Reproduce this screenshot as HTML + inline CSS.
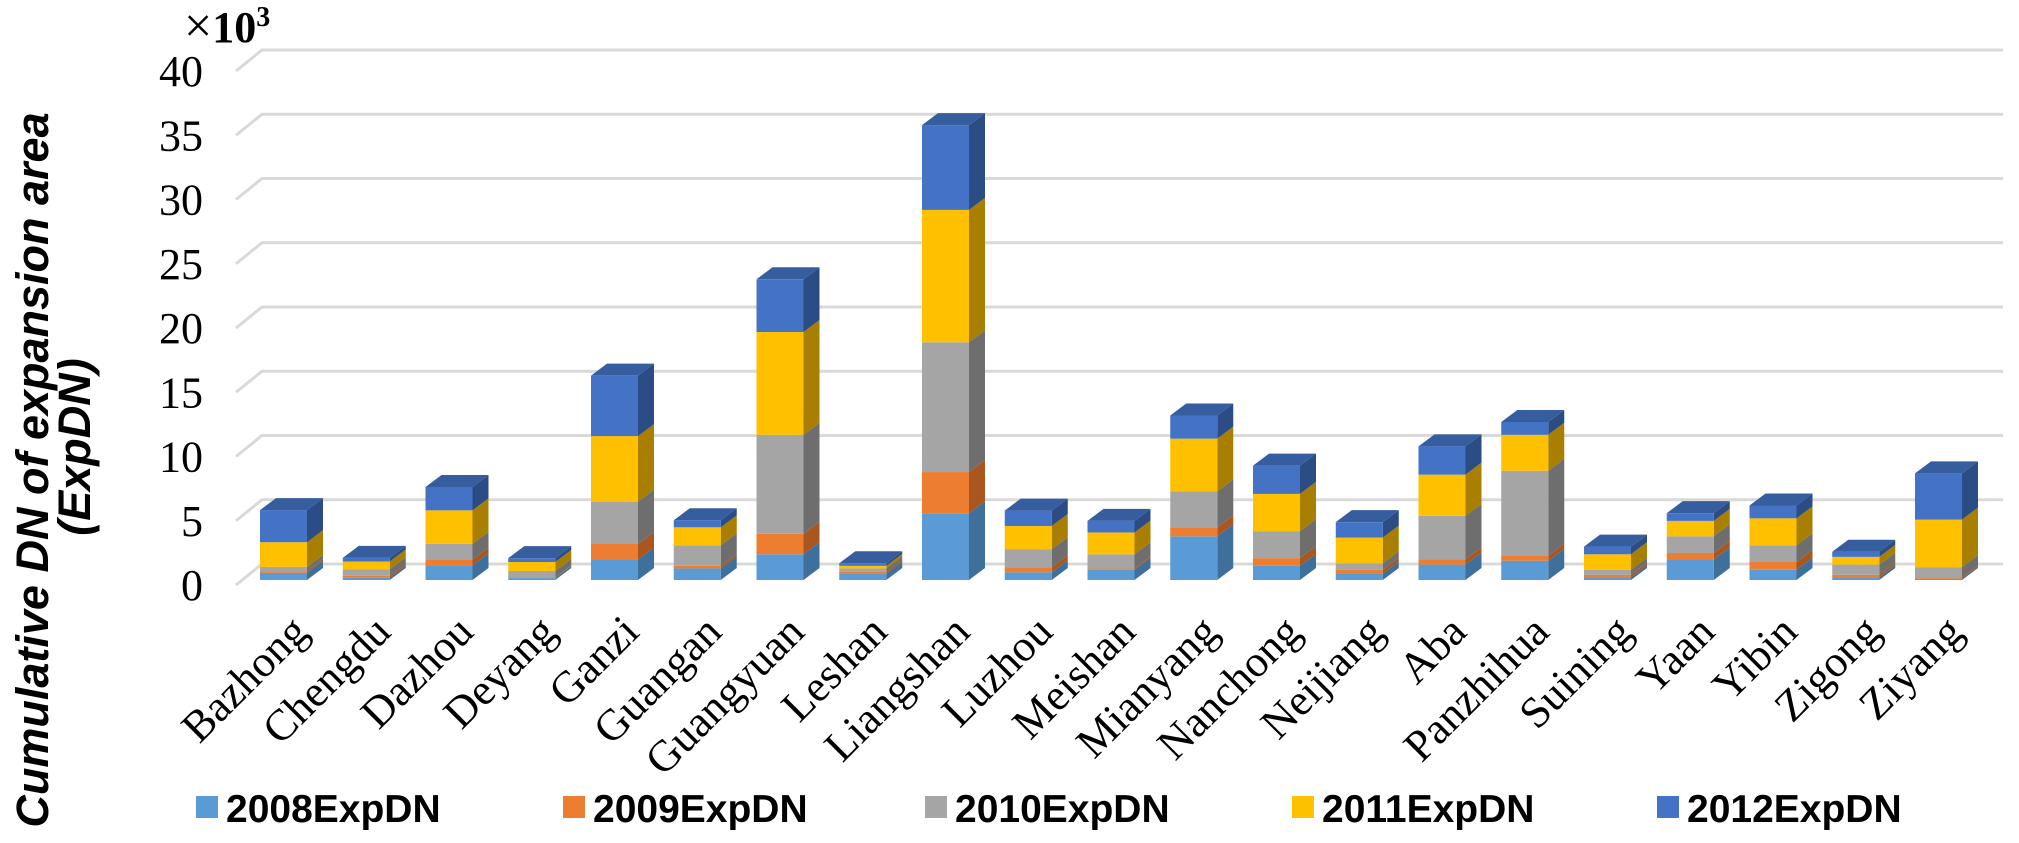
<!DOCTYPE html>
<html><head><meta charset="utf-8"><style>
html,body{margin:0;padding:0;background:#fff;}
svg{display:block;}
</style></head><body>
<svg id="chart" width="2019" height="843" viewBox="0 0 2019 843" xmlns="http://www.w3.org/2000/svg">
<g id="grid"></g>
<g id="yticks"></g>
<g id="bars"></g>
<g id="xlabels"></g>
<text x="184" y="42" font-family="Liberation Serif, serif" font-size="44" font-weight="bold"><tspan font-weight="normal" font-size="50">×</tspan>10<tspan font-size="28" dy="-16">3</tspan></text>
<text transform="translate(48,470) rotate(-90)" text-anchor="middle" font-family="Liberation Sans, sans-serif" font-size="45" font-weight="bold" font-style="italic">Cumulative DN of expansion area</text>
<text transform="translate(90,447) rotate(-90)" text-anchor="middle" font-family="Liberation Sans, sans-serif" font-size="45" font-weight="bold" font-style="italic">(ExpDN)</text>
<g id="legend"></g>
</svg>
<script>
const categories = ["Bazhong","Chengdu","Dazhou","Deyang","Ganzi","Guangan","Guangyuan","Leshan","Liangshan","Luzhou","Meishan","Mianyang","Nanchong","Neijiang","Aba","Panzhihua","Suining","Yaan","Yibin","Zigong","Ziyang"];
const series2008 = [0.56,0.18,1.15,0.15,1.6,0.9,2.0,0.5,5.2,0.6,0.8,3.4,1.1,0.5,1.2,1.5,0.2,1.6,0.8,0.2,0.1];
const series2009 = [0.13,0.15,0.44,0.05,1.2,0.2,1.6,0.15,3.2,0.4,0.1,0.7,0.6,0.3,0.4,0.4,0.2,0.5,0.6,0.2,0.1];
const series2010 = [0.33,0.51,1.23,0.5,3.3,1.6,7.7,0.25,10.1,1.4,1.1,2.8,2.1,0.5,3.4,6.6,0.4,1.3,1.3,0.8,0.8];
const series2011 = [1.92,0.6,2.6,0.7,5.1,1.4,8.0,0.2,10.3,1.8,1.7,4.1,2.9,2.0,3.2,2.8,1.2,1.2,2.1,0.6,3.7];
const series2012 = [2.5,0.28,1.82,0.3,4.7,0.55,4.1,0.2,6.6,1.2,0.9,1.8,2.2,1.2,2.2,1.0,0.6,0.6,1.0,0.4,3.6];
const seriesNames = ["2008ExpDN","2009ExpDN","2010ExpDN","2011ExpDN","2012ExpDN"];
const yTicks = [0,5,10,15,20,25,30,35,40];

const NS="http://www.w3.org/2000/svg";
const colors=["#5B9BD5","#ED7D31","#A5A5A5","#FFC000","#4472C4"];
const sides=["#3F6F9B","#A9561F","#6E6E6E","#A87F00","#2C4C85"];
const tops=["#4A86C0","#D06A24","#8E8E8E","#DDA800","#365E9F"];
const K=12.85, frontBase=580, backBase=564, x0=260, step=82.75, bw=47, dx=16, dy=-12;
const yFront=v=>frontBase-v*K;
const yBack=v=>backBase-v*K;
const xBar=i=>x0+i*step;
function mk(tag,attrs,parent){const e=document.createElementNS(NS,tag);for(const k in attrs)e.setAttribute(k,attrs[k]);parent.appendChild(e);return e;}
const grid=document.getElementById('grid'),yt=document.getElementById('yticks');
yTicks.forEach(v=>{
  const yb=yBack(v);
  const l=mk('polyline',{points:`236,${yb+21} 262,${yb} 2003,${yb}`,fill:'none',stroke:'#D9D9D9','stroke-width':3},grid);
  
  
  const t=mk('text',{x:203,y:yb+21+15,'text-anchor':'end','font-family':'Liberation Serif, serif','font-size':44},yt);
  t.textContent=v;
  
  
});
const bars=document.getElementById('bars'),xl=document.getElementById('xlabels');
const all=[series2008,series2009,series2010,series2011,series2012];
categories.forEach((c,i)=>{
  const g=mk('g',{},bars);
  
  
  const x=xBar(i);let cum=0;
  all.forEach((s,k)=>{
    const y1=yFront(cum),y2=yFront(cum+s[i]);
    const side=mk('polygon',{points:`${x+bw},${y1} ${x+bw+dx},${y1+dy} ${x+bw+dx},${y2+dy} ${x+bw},${y2}`,fill:sides[k]},g);
    
    
    const r=mk('rect',{x:x,y:y2,width:bw,height:Math.max(0,y1-y2),fill:colors[k]},g);
    
    
    cum+=s[i];
  });
  const yt2=yFront(cum);
  const top=mk('polygon',{points:`${x},${yt2} ${x+dx},${yt2+dy} ${x+bw+dx},${yt2+dy} ${x+bw},${yt2}`,fill:tops[4]},g);
  
  
  const t=mk('text',{transform:`translate(${x+50},${634}) rotate(-45)`,'text-anchor':'end','font-family':'Liberation Serif, serif','font-size':44},xl);
  t.textContent=c;
  
  
});
const lg=document.getElementById('legend');
const lx=[196,563,925,1292,1657];
seriesNames.forEach((n,k)=>{
  const g=mk('g',{},lg);
  
  
  mk('rect',{x:lx[k],y:796,width:22,height:22,fill:colors[k]},g);
  const t=mk('text',{x:lx[k]+30,y:822,'font-family':'Liberation Sans, sans-serif','font-size':39,'font-weight':'bold'},g);
  t.textContent=n;
});
</script>
</body></html>
